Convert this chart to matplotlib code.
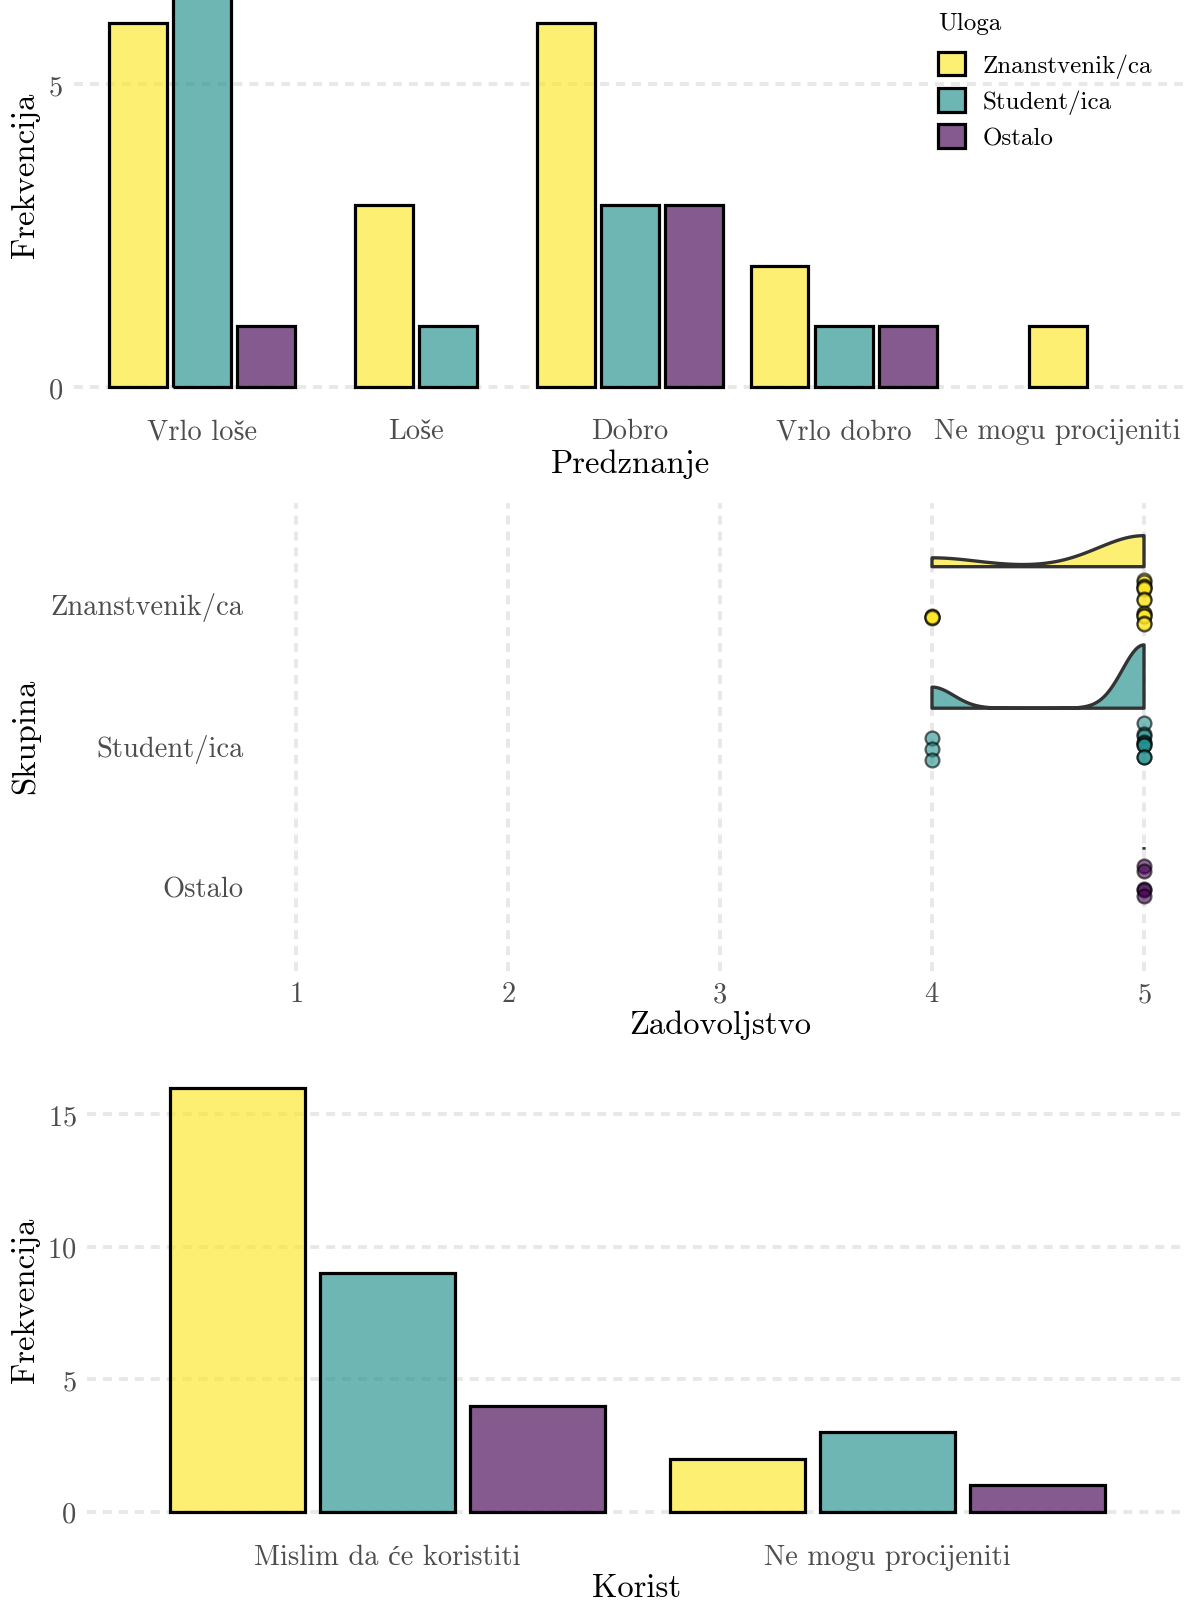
import numpy as np
import matplotlib
matplotlib.use("Agg")
import matplotlib.pyplot as plt
from matplotlib.patches import Patch

plt.rcParams['font.family'] = ['cmr10', 'Liberation Serif']
plt.rcParams['axes.formatter.use_mathtext'] = True
plt.rcParams['mathtext.fontset'] = 'cm'

# ---------------- data ----------------
groups = ["Znanstvenik/ca", "Student/ica", "Ostalo"]
colors = ["#FDE725", "#21908C", "#440154"]

predznanje_cats = ["Vrlo loše", "Loše", "Dobro", "Vrlo dobro", "Ne mogu procijeniti"]
predznanje_zn = [6, 3, 6, 2, 1]
predznanje_st = [7, 1, 3, 1, 0]
predznanje_os = [1, 0, 3, 1, 0]

korist_cats = ["Mislim da će koristiti", "Ne mogu procijeniti"]
korist_zn = [16, 2]
korist_st = [9, 3]
korist_os = [4, 1]

# satisfaction scores (Zadovoljstvo) per group
zad_zn = [4] * 4 + [5] * 14
zad_st = [4] * 3 + [5] * 9
zad_os = [5] * 5
# vertical jitter of the points
jit_zn = [-0.095, -0.10, -0.105, -0.10,
          0.16, 0.15, 0.12, 0.11, 0.10, 0.105, 0.03, 0.02,
          -0.07, -0.08, -0.09, -0.095, -0.14, -0.15]
jit_st = [0.044, -0.032, -0.11,
          0.152, 0.075, 0.06, 0.02, 0.01, 0.0, -0.005, -0.085, -0.09]
jit_os = [0.143, 0.11, -0.02, -0.03, -0.07]

W, H = 1191, 1606
fig = plt.figure(figsize=(W / 100, H / 100), dpi=100)

def add_ax(left, right, top, bottom):
    return fig.add_axes([left / W, 1 - bottom / H, (right - left) / W, (bottom - top) / H])

TICK_COL = "#4D4D4D"
GRID_COL = "#E8E8E8"
TICK_FS = 20.5
TITLE_FS = 23.5
GRID_KW = dict(color=GRID_COL, linewidth=2.8, linestyle=(0, (2.3, 1.8)), zorder=0)

def style(ax):
    for s in ax.spines.values():
        s.set_visible(False)
    ax.tick_params(length=0, labelsize=TICK_FS, labelcolor=TICK_COL)
    ax.set_axisbelow(True)

def px_label(ax, axis, x_px, y_px, text):
    tr = fig.transFigure
    if axis == "x":
        ax.set_xlabel(text, fontsize=TITLE_FS)
        ax.xaxis.set_label_coords(x_px / W, 1 - y_px / H, transform=tr)
        ax.xaxis.label.set_va("center")
    else:
        ax.set_ylabel(text, fontsize=TITLE_FS)
        ax.yaxis.set_label_coords(x_px / W, 1 - y_px / H, transform=tr)
        ax.yaxis.label.set_va("center")

def dodge_bars(ax, cats, series):
    width, step = 0.27, 0.30
    x = np.arange(len(cats))
    for ci in range(len(cats)):
        present = [gi for gi in range(len(series)) if series[gi][ci] > 0]
        k = len(present)
        for j, gi in enumerate(present):
            off = (j - (k - 1) / 2) * step
            ax.bar(x[ci] + off, series[gi][ci], width=width, color=colors[gi],
                   alpha=0.65, edgecolor="none", zorder=2)
            ax.bar(x[ci] + off, series[gi][ci], width=width, facecolor="none",
                   edgecolor="black", linewidth=2.3, zorder=3)
    ax.set_xticks(x)
    ax.set_xticklabels(cats)

# ---------------- top panel ----------------
ax1 = add_ax(73.6, 1186, 0, 409.3)
style(ax1)
dodge_bars(ax1, predznanje_cats, [predznanje_zn, predznanje_st, predznanje_os])
ax1.set_xlim(-0.6, 4.6)
ax1.set_ylim(-0.35, 6.404)
ax1.set_yticks([0, 5])
ax1.yaxis.grid(True, **GRID_KW)
ax1.tick_params(axis="x", pad=7)
ax1.tick_params(axis="y", pad=7.5)
px_label(ax1, "x", 630, 464, "Predznanje")
px_label(ax1, "y", 25.6, 175, "Frekvencija")

handles = [Patch(facecolor=matplotlib.colors.to_rgba(c, 0.65), edgecolor="black", linewidth=2.3)
           for c in colors]
leg = ax1.legend(handles, groups, loc="upper left", bbox_to_anchor=(938 / W, 1 - 12.5 / H),
                 bbox_transform=fig.transFigure, frameon=False, fontsize=18,
                 title="Uloga", title_fontsize=18, alignment="left",
                 handlelength=1.08, handleheight=1.08, handletextpad=0.72,
                 labelspacing=0.4, borderpad=0, borderaxespad=0)
leg._legend_box.sep = 13

# ---------------- middle panel ----------------
ax2 = add_ax(253.6, 1186.4, 504, 972)
style(ax2)
ax2.set_xlim(0.8, 5.2)
ax2.set_ylim(0.4, 3.707)
ax2.set_xticks([1, 2, 3, 4, 5])
ax2.set_yticks([3, 2, 1])
ax2.set_yticklabels(groups)
ax2.xaxis.grid(True, **GRID_KW)
ax2.tick_params(axis="x", pad=7)
ax2.tick_params(axis="y", pad=7)

def bw_nrd0(x):
    x = np.asarray(x, float)
    hi = np.std(x, ddof=1)
    q75, q25 = np.percentile(x, [75, 25])
    lo = min(hi, (q75 - q25) / 1.34)
    if lo == 0:
        lo = hi if hi > 0 else (abs(x[0]) if x[0] != 0 else 1.0)
    return 0.9 * lo * len(x) ** (-0.2)

def kde(x, grid):
    x = np.asarray(x, float)
    bw = bw_nrd0(x)
    z = (grid[:, None] - x[None, :]) / bw
    return np.exp(-0.5 * z ** 2).sum(axis=1) / (len(x) * bw * np.sqrt(2 * np.pi))

data = [zad_zn, zad_st, zad_os]
jits = [jit_zn, jit_st, jit_os]
ypos = [3, 2, 1]
grids, dens = [], []
for d in data:
    g = np.linspace(min(d), max(d), 512)
    grids.append(g)
    dens.append(kde(d, g))
dmax = max(dd.max() for dd in dens)
VIOLIN_H, BASE_OFF = 0.447, 0.257
for gi in range(3):
    g, dd = grids[gi], dens[gi]
    base = ypos[gi] + BASE_OFF
    top = base + VIOLIN_H * dd / dmax
    xs = np.concatenate([g, g[::-1]])
    ys = np.concatenate([top, np.full_like(g, base)])
    ax2.fill(xs, ys, facecolor=matplotlib.colors.to_rgba(colors[gi], 0.65),
             edgecolor="#333333", linewidth=2.4, zorder=3, joinstyle="round")
for gi in range(3):
    ax2.scatter(data[gi], ypos[gi] + np.asarray(jits[gi]), s=100,
                facecolor=colors[gi], edgecolor="black", linewidths=1.6,
                alpha=0.6, zorder=4)
px_label(ax2, "x", 720, 1025, "Zadovoljstvo")
px_label(ax2, "y", 25.6, 736, "Skupina")

# ---------------- bottom panel ----------------
ax3 = add_ax(87, 1187, 1067.4, 1533.8)
style(ax3)
dodge_bars(ax3, korist_cats, [korist_zn, korist_st, korist_os])
ax3.set_xlim(-0.6, 1.6)
ax3.set_ylim(-0.8, 16.8)
ax3.set_yticks([0, 5, 10, 15])
ax3.yaxis.grid(True, **GRID_KW)
ax3.tick_params(axis="x", pad=7.5)
ax3.tick_params(axis="y", pad=7.5)
px_label(ax3, "x", 637, 1588, "Korist")
px_label(ax3, "y", 25.6, 1300, "Frekvencija")

fig.savefig("out.png", dpi=100)
